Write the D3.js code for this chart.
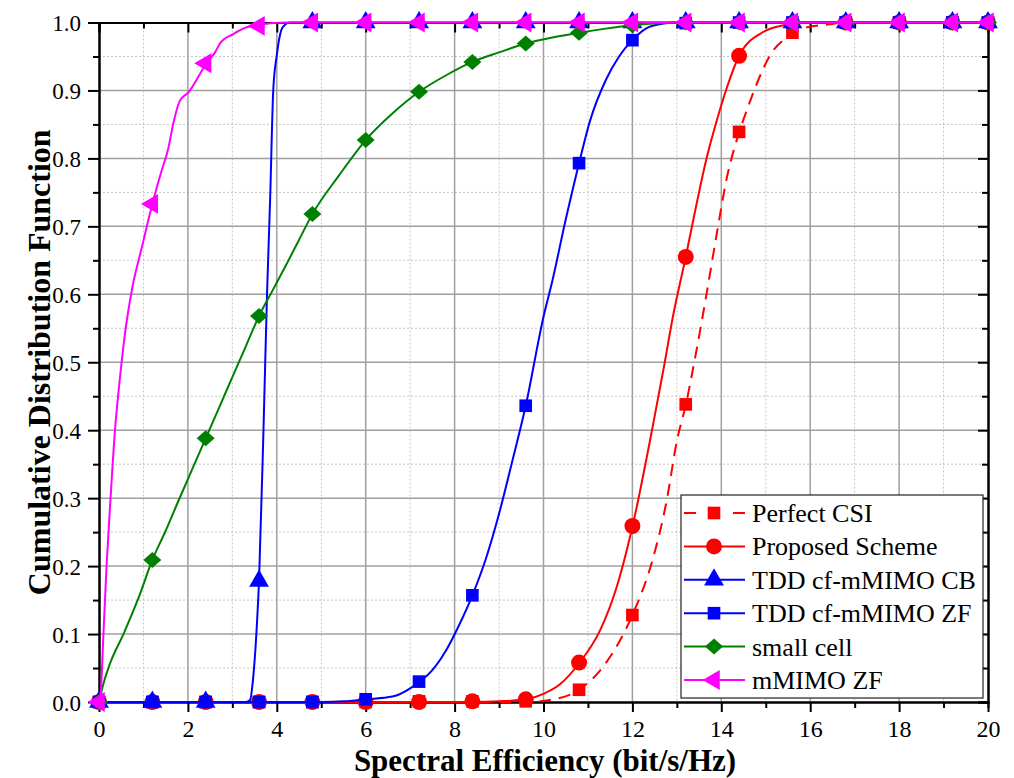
<!DOCTYPE html>
<html>
<head>
<meta charset="utf-8">
<script src="https://cdn.jsdelivr.net/npm/d3@7"></script>
<style>
  body { margin: 0; background: #fff; }
  svg { display: block; }
  text { font-family: "Liberation Serif", "Times New Roman", serif; }
</style>
</head>
<body>
<div id="chart"></div>
<script>
/* Data */

var seriesNames = ["Perfect CSI", "Proposed Scheme", "TDD cf-mMIMO CB", "TDD cf-mMIMO ZF", "small cell", "mMIMO ZF"];

// curve samples, [x, cdf]
var perfectCurve = [[0,0],[9.6,0],[10.3,0.005],[10.8,0.018],[11.42,0.059],[12.0,0.128],[12.47,0.213],[12.77,0.296],[13.0,0.384],[13.2,0.437],[13.44,0.517],[13.68,0.605],[13.9,0.69],[14.12,0.77],[14.4,0.838],[14.58,0.872],[14.83,0.915],[15.1,0.952],[15.55,0.981],[15.93,0.993],[16.4,0.997],[16.8,1],[20,1]];
var proposedCurve = [[0,0],[8.4,0],[9.0,0.001],[9.6,0.004],[10.0,0.012],[10.37,0.026],[10.8,0.057],[11.27,0.105],[11.65,0.17],[12.0,0.258],[12.47,0.41],[12.7,0.49],[12.92,0.57],[13.2,0.655],[13.45,0.735],[13.65,0.795],[13.9,0.856],[14.13,0.905],[14.4,0.951],[14.94,0.986],[15.4,0.996],[15.93,1],[20,1]];
var cbCurve = [[0,0],[3.3,0],[3.4,0.003],[3.46,0.03],[3.54,0.1],[3.6,0.178],[3.7,0.4],[3.78,0.6],[3.85,0.74],[3.92,0.9],[4.0,0.952],[4.06,0.978],[4.13,0.993],[4.3,1],[20,1]];
var zfCurve = [[0,0],[5.0,0],[5.5,0.001],[6.0,0.004],[6.6,0.008],[7.0,0.02],[7.2,0.03],[7.4,0.04],[7.8,0.075],[8.1,0.113],[8.4,0.157],[8.7,0.21],[9.0,0.277],[9.3,0.355],[9.6,0.436],[10.0,0.567],[10.2,0.62],[10.5,0.71],[10.8,0.793],[11.05,0.856],[11.4,0.915],[11.7,0.95],[12.0,0.974],[12.4,0.994],[13.0,1],[20,1]];
var smallCellCurve = [[0,0],[0.1,0.027],[0.25,0.057],[0.55,0.1],[0.9,0.155],[1.2,0.209],[1.5,0.252],[1.8,0.298],[2.1,0.343],[2.4,0.388],[2.7,0.433],[3.0,0.478],[3.3,0.523],[3.6,0.568],[3.9,0.605],[4.2,0.642],[4.5,0.68],[4.8,0.718],[5.4,0.775],[6.0,0.827],[6.6,0.866],[7.2,0.898],[7.8,0.922],[8.4,0.942],[9.0,0.956],[9.6,0.969],[10.2,0.978],[10.8,0.985],[11.4,0.991],[12.0,0.996],[12.6,0.999],[13.2,1],[20,1]];
var mmimoCurve = [[0,0],[0.04,0.015],[0.1,0.1],[0.17,0.2],[0.26,0.3],[0.36,0.4],[0.46,0.47],[0.58,0.54],[0.75,0.61],[0.96,0.668],[1.2,0.733],[1.4,0.78],[1.56,0.815],[1.67,0.851],[1.82,0.885],[2.01,0.897],[2.42,0.94],[2.61,0.956],[2.72,0.969],[3.02,0.983],[3.32,0.993],[3.62,0.997],[4.2,1],[20,1]];

// marker positions (every 1.2 bit/s/Hz) and their values
var markerX = [0,1.2,2.4,3.6,4.8,6.0,7.2,8.4,9.6,10.8,12.0,13.2,14.4,15.6,16.8,18.0,19.2,20];
var perfectMarks  = [0,0,0,0,0,0,0.001,0.001,0.001,0.018,0.128,0.438,0.839,0.985,1,1,1,1];
var proposedMarks = [0,0,0,0,0,0,0,0.001,0.004,0.058,0.259,0.655,0.951,0.999,1,1,1,1];
var cbMarks       = [0,0,0,0.178,1,1,1,1,1,1,1,1,1,1,1,1,1,1];
var zfMarks       = [0,0,0,0,0,0.004,0.03,0.157,0.436,0.793,0.974,0.999,1,1,1,1,1,1];
var smallMarks    = [0,0.209,0.388,0.568,0.718,0.827,0.898,0.942,0.969,0.985,0.996,1,1,1,1,1,1,1];
var mmimoMarks    = [0,0.733,0.94,0.995,1,1,1,1,1,1,1,1,1,1,1,1,1,1];

var xTicks = [0,2,4,6,8,10,12,14,16,18,20];
var xMinor = [1,3,5,7,9,11,13,15,17,19];
var yTicks = [0,0.1,0.2,0.3,0.4,0.5,0.6,0.7,0.8,0.9,1.0];
var yMinor = [0.05,0.15,0.25,0.35,0.45,0.55,0.65,0.75,0.85,0.95];

var curves = [perfectCurve, proposedCurve, cbCurve, zfCurve, smallCellCurve, mmimoCurve];
var marks = [perfectMarks, proposedMarks, cbMarks, zfMarks, smallMarks, mmimoMarks];

/* Styles */
var colors = ["#ff0000", "#ff0000", "#0000ff", "#0000ff", "#008000", "#ff00ff"];
var dashes = ["12,8", null, null, null, null, null];
var legendDashes = ["12,37,12", null, null, null, null, null];
var shapes = ["square", "circle", "triangle", "square", "diamond", "left"];

var width = 1014, height = 778;
var pLeft = 99, pRight = 988, pTop = 22.5, pBottom = 702;

var svg = d3.select("#chart").append("svg")
	.attr("width", width)
	.attr("height", height);

var x = d3.scaleLinear().domain([0, 20]).range([pLeft, pRight]);
var y = d3.scaleLinear().domain([0, 1]).range([pBottom, pTop]);

/* ------- GRID ------- */
var grid = svg.append("g");
grid.selectAll("line.vminor").data(xMinor).enter().append("line")
	.attr("x1", d => x(d)).attr("x2", d => x(d)).attr("y1", pTop).attr("y2", pBottom)
	.attr("stroke", "#c4c4c4").attr("stroke-width", 1).attr("stroke-dasharray", "2,2");
grid.selectAll("line.hminor").data(yMinor).enter().append("line")
	.attr("y1", d => y(d)).attr("y2", d => y(d)).attr("x1", pLeft).attr("x2", pRight)
	.attr("stroke", "#c4c4c4").attr("stroke-width", 1).attr("stroke-dasharray", "2,2");
grid.selectAll("line.vmajor").data(xTicks.slice(1, -1)).enter().append("line")
	.attr("x1", d => x(d)).attr("x2", d => x(d)).attr("y1", pTop).attr("y2", pBottom)
	.attr("stroke", "#a0a0a0").attr("stroke-width", 1.5);
grid.selectAll("line.hmajor").data(yTicks.slice(1, -1)).enter().append("line")
	.attr("y1", d => y(d)).attr("y2", d => y(d)).attr("x1", pLeft).attr("x2", pRight)
	.attr("stroke", "#a0a0a0").attr("stroke-width", 1.5);

/* ------- AXES ------- */
function styleAxis(g) {
	g.select(".domain").attr("stroke", "#000").attr("stroke-width", 2);
	g.selectAll(".tick line").attr("stroke", "#000").attr("stroke-width", 2);
}

var fmt = d3.format(".1f");

var gx = svg.append("g").attr("transform", "translate(0," + pBottom + ")")
	.call(d3.axisBottom(x).tickValues(xTicks).tickSizeInner(10).tickSizeOuter(0).tickFormat(d3.format("d")));
gx.call(styleAxis);
gx.selectAll(".tick text").attr("y", 35).attr("dy", 0)
	.attr("font-size", 24).attr("fill", "#000")
	.style("font-family", "'Liberation Serif', 'Times New Roman', serif");
svg.append("g").attr("transform", "translate(0," + pBottom + ")")
	.call(d3.axisBottom(x).tickValues(xMinor).tickSize(6).tickFormat(""))
	.call(styleAxis);

var gy = svg.append("g").attr("transform", "translate(" + pLeft + ",0)")
	.call(d3.axisLeft(y).tickValues(yTicks).tickSizeInner(11).tickSizeOuter(0).tickFormat(fmt));
gy.call(styleAxis);
gy.selectAll(".tick text").attr("x", -18).attr("dy", "0.35em")
	.attr("font-size", 23).attr("fill", "#000")
	.style("font-family", "'Liberation Serif', 'Times New Roman', serif");
svg.append("g").attr("transform", "translate(" + pLeft + ",0)")
	.call(d3.axisLeft(y).tickValues(yMinor).tickSize(6).tickFormat(""))
	.call(styleAxis);

// mirrored top and right axes, ticks pointing inward
svg.append("g").attr("transform", "translate(0," + pTop + ")")
	.call(d3.axisTop(x).tickValues(xTicks).tickSize(-10).tickFormat(""))
	.call(styleAxis);
svg.append("g").attr("transform", "translate(0," + pTop + ")")
	.call(d3.axisTop(x).tickValues(xMinor).tickSize(-6).tickFormat(""))
	.call(styleAxis);
svg.append("g").attr("transform", "translate(" + pRight + ",0)")
	.call(d3.axisRight(y).tickValues(yTicks).tickSize(-10).tickFormat(""))
	.call(styleAxis);
svg.append("g").attr("transform", "translate(" + pRight + ",0)")
	.call(d3.axisRight(y).tickValues(yMinor).tickSize(-6).tickFormat(""))
	.call(styleAxis);

/* ------- AXIS TITLES ------- */
svg.append("text")
	.attr("x", 545).attr("y", 771)
	.attr("text-anchor", "middle")
	.attr("font-size", 31).attr("font-weight", "bold")
	.text("Spectral Efficiency (bit/s/Hz)");
svg.append("text")
	.attr("transform", "translate(50," + ((pTop + pBottom) / 2) + ") rotate(-90)")
	.attr("text-anchor", "middle")
	.attr("font-size", 32).attr("font-weight", "bold")
	.text("Cumulative Distribution Function");

/* ------- MARKERS ------- */
function markerPath(shape) {
	if (shape == "circle") return d3.symbol().type(d3.symbolCircle).size(200)();
	if (shape == "triangle") return d3.symbol().type(d3.symbolTriangle).size(170)();
	if (shape == "left") return d3.symbol().type(d3.symbolTriangle).size(170)();
	if (shape == "diamond") return "M0,-8L9,0L0,8L-9,0Z";
	return d3.symbol().type(d3.symbolSquare).size(160)();
}
function markerRotate(shape) {
	return shape == "left" ? " rotate(-90)" : "";
}

/* ------- CURVES ------- */
var line = d3.line()
	.x(function(d) { return x(d[0]); })
	.y(function(d) { return y(d[1]); })
	.curve(d3.curveMonotoneX);

curves.forEach(function(c, i) {
	var g = svg.append("g");
	g.append("path")
		.datum(c)
		.attr("d", line)
		.attr("fill", "none")
		.attr("stroke", colors[i])
		.attr("stroke-width", 2)
		.attr("stroke-dasharray", dashes[i]);
	g.selectAll("path.mark")
		.data(markerX.map(function(mx, j) { return [mx, marks[i][j]]; }))
		.enter().append("path")
		.attr("class", "mark")
		.attr("d", markerPath(shapes[i]))
		.attr("transform", function(d) { return "translate(" + x(d[0]) + "," + y(d[1]) + ")" + markerRotate(shapes[i]); })
		.attr("fill", colors[i]);
});

/* ------- LEGEND ------- */
var legend = svg.append("g");
legend.append("rect")
	.attr("x", 681).attr("y", 495).attr("width", 302).attr("height", 203)
	.attr("fill", "#fff").attr("stroke", "#222").attr("stroke-width", 1.2);

var rows = legend.selectAll("g.row").data(seriesNames).enter().append("g")
	.attr("transform", function(d, i) { return "translate(0," + (513 + i * 33.4) + ")"; });
rows.append("line")
	.attr("x1", 684).attr("x2", 745).attr("y1", 0).attr("y2", 0)
	.attr("stroke", function(d, i) { return colors[i]; })
	.attr("stroke-width", 2)
	.attr("stroke-dasharray", function(d, i) { return legendDashes[i]; });
rows.append("path")
	.attr("d", function(d, i) { return markerPath(shapes[i]); })
	.attr("transform", function(d, i) { return "translate(714,0)" + markerRotate(shapes[i]); })
	.attr("fill", function(d, i) { return colors[i]; });
rows.append("text")
	.attr("x", 752).attr("y", 9)
	.attr("font-size", 26)
	.text(function(d) { return d; });
</script>
</body>
</html>
